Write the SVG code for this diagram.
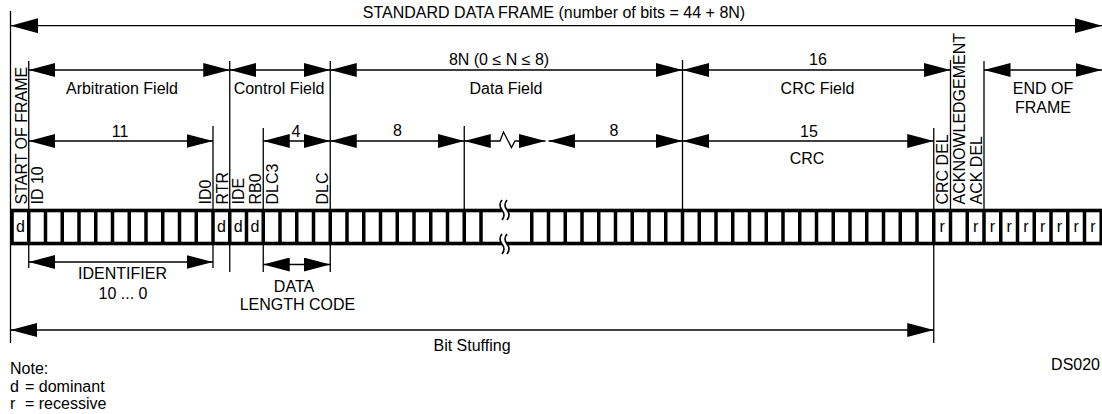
<svg xmlns="http://www.w3.org/2000/svg" width="1102" height="414" viewBox="0 0 1102 414">
<style>
text{font-family:"Liberation Sans",Arial,sans-serif;font-size:16px;fill:#000}
.c{text-anchor:middle}
.e{text-anchor:end}
.ln{stroke:#000;stroke-width:1.3;fill:none}
.ar{stroke:#000;stroke-width:1.3;fill:none;marker-start:url(#ah);marker-end:url(#ah)}
.big{stroke:#000;stroke-width:1.3;fill:none;marker-start:url(#ahb);marker-end:url(#ahb)}
.row{fill:#fff;stroke:#000;stroke-width:3.6}
.div{stroke:#000;stroke-width:3.5;fill:none}
.brk{fill:#fff;stroke:none}
.wav{fill:none;stroke:#000;stroke-width:1.6}
</style>
<defs>
<marker id="ah" markerUnits="userSpaceOnUse" markerWidth="27" markerHeight="14" refX="26.5" refY="7" orient="auto-start-reverse" viewBox="0 0 27 14"><path d="M0,0 L26.5,7 L0,14 Z" fill="#000"/></marker>
<marker id="ahb" markerUnits="userSpaceOnUse" markerWidth="28" markerHeight="15" refX="27.5" refY="7.5" orient="auto-start-reverse" viewBox="0 0 28 15"><path d="M0,0 L27.5,7.5 L0,15 Z" fill="#000"/></marker>
</defs>

<g id="connectors">
<path class="ln" d="M10.5,11 V343 M28.75,61 V268 M213,126 V268 M229.75,61 V272 M263.25,128 V272 M330.25,61 V272 M464.25,126 V209 M682.5,60 V209 M933.75,128 V343 M950.5,60 V209 M984,61 V209"/>
<line class="big" x1="10.5" y1="25.7" x2="1102" y2="25.7"/>
<line class="ar" x1="28.75" y1="70" x2="229.75" y2="70"/>
<line class="ar" x1="229.75" y1="70" x2="330.25" y2="70"/>
<line class="ar" x1="330.25" y1="70" x2="682.5" y2="70"/>
<line class="ar" x1="682.5" y1="70" x2="950.5" y2="70"/>
<line class="ar" x1="984" y1="70" x2="1102" y2="70"/>
<line class="ar" x1="28.75" y1="141" x2="213" y2="141"/>
<line class="ar" x1="263.25" y1="141" x2="330.25" y2="141"/>
<line class="ar" x1="330.25" y1="141" x2="464.25" y2="141"/>
<path class="ar" d="M464.25,141 L500,141 L503.5,132 L511.5,147.5 L515,141 L545.5,141"/>
<line class="ar" x1="548.5" y1="141" x2="682.5" y2="141"/>
<line class="ar" x1="682.5" y1="141" x2="933.75" y2="141"/>
<line class="ar" x1="28.75" y1="262" x2="213" y2="262"/>
<line class="ar" x1="263.25" y1="264.5" x2="330.25" y2="264.5"/>
<line class="ar" x1="10.5" y1="330" x2="933.75" y2="330"/>
</g>

<g id="title">
<text class="c" x="554" y="18.3">STANDARD DATA FRAME (number of bits = 44 + 8N)</text>
</g>

<g id="arbitration-field">
<text class="c" x="122" y="93.5">Arbitration Field</text>
<text class="c" x="120" y="137">11</text>
</g>
<g id="control-field">
<text class="c" x="279" y="93.5">Control Field</text>
<text class="c" x="296" y="137">4</text>
</g>
<g id="data-field">
<text class="c" x="499" y="65">8N (0 ≤ N ≤ 8)</text>
<text class="c" x="506" y="93.5">Data Field</text>
<text class="c" x="397.5" y="136">8</text>
<text class="c" x="614" y="136">8</text>
</g>
<g id="crc-field">
<text class="c" x="818" y="65">16</text>
<text class="c" x="817.5" y="93.5">CRC Field</text>
<text class="c" x="809" y="136.5">15</text>
<text class="c" x="807" y="164">CRC</text>
</g>
<g id="end-of-frame">
<text class="c" x="1043" y="93.5">END OF</text>
<text class="c" x="1043" y="112.5">FRAME</text>
</g>

<g id="bit-labels">
<text transform="translate(26.5,204.5) rotate(-90)">START OF FRAME</text>
<text transform="translate(43.25,204.5) rotate(-90)">ID 10</text>
<text transform="translate(210.75,204.5) rotate(-90)">ID0</text>
<text transform="translate(227.5,204.5) rotate(-90)">RTR</text>
<text transform="translate(244.25,204.5) rotate(-90)">IDE</text>
<text transform="translate(261,204.5) rotate(-90)">RB0</text>
<text transform="translate(277.75,204.5) rotate(-90)">DLC3</text>
<text transform="translate(328,204.5) rotate(-90)">DLC</text>
<text transform="translate(948.25,204.5) rotate(-90)">CRC DEL</text>
<text transform="translate(965,204.5) rotate(-90)">ACKNOWLEDGEMENT</text>
<text transform="translate(981.75,204.5) rotate(-90)">ACK DEL</text>
</g>

<g id="bit-row">
<rect class="row" x="12" y="210.5" width="1089.25" height="33"/>
<path class="div" d="M28.75,209V245 M45.5,209V245 M62.25,209V245 M79,209V245 M95.75,209V245 M112.5,209V245 M129.25,209V245 M146,209V245 M162.75,209V245 M179.5,209V245 M196.25,209V245 M213,209V245 M229.75,209V245 M246.5,209V245 M263.25,209V245 M280,209V245 M296.75,209V245 M313.5,209V245 M330.25,209V245 M347,209V245 M363.75,209V245 M380.5,209V245 M397.25,209V245 M414,209V245 M430.75,209V245 M447.5,209V245 M464.25,209V245 M481,209V245
M531.75,209V245 M548.5,209V245 M565.25,209V245 M582,209V245 M598.75,209V245 M615.5,209V245 M632.25,209V245 M649,209V245 M665.75,209V245 M682.5,209V245 M699.25,209V245 M716,209V245 M732.75,209V245 M749.5,209V245 M766.25,209V245 M783,209V245 M799.75,209V245 M816.5,209V245 M833.25,209V245 M850,209V245 M866.75,209V245 M883.5,209V245 M900.25,209V245 M917,209V245 M933.75,209V245 M950.5,209V245 M967.25,209V245 M984,209V245 M1000.75,209V245 M1017.5,209V245 M1034.25,209V245 M1051,209V245 M1067.75,209V245 M1084.5,209V245"/>
<path class="brk" d="M502,200 q-4,5 0,10 q4,5 0,10 L507,220 q4,-5 0,-10 q-4,-5 0,-10 Z"/>
<path class="wav" d="M502,200 q-4,5 0,10 q4,5 0,10 M507,200 q-4,5 0,10 q4,5 0,10"/>
<path class="brk" d="M502,234 q-4,5 0,10 q4,5 0,10 L507,254 q4,-5 0,-10 q-4,-5 0,-10 Z"/>
<path class="wav" d="M502,234 q-4,5 0,10 q4,5 0,10 M507,234 q-4,5 0,10 q4,5 0,10"/>
<text class="c" x="20.4" y="231.5">d</text>
<text class="c" x="221.4" y="231.5">d</text>
<text class="c" x="238.1" y="231.5">d</text>
<text class="c" x="254.9" y="231.5">d</text>
<text class="c" x="942.1" y="231.5">r</text>
<text class="c" x="975.6" y="231.5">r</text>
<text class="c" x="992.4" y="231.5">r</text>
<text class="c" x="1009.1" y="231.5">r</text>
<text class="c" x="1025.9" y="231.5">r</text>
<text class="c" x="1042.6" y="231.5">r</text>
<text class="c" x="1059.4" y="231.5">r</text>
<text class="c" x="1076.1" y="231.5">r</text>
<text class="c" x="1092.9" y="231.5">r</text>
</g>

<g id="identifier">
<text class="c" x="122.5" y="279">IDENTIFIER</text>
<text class="c" x="123" y="298.5">10 ... 0</text>
</g>
<g id="data-length-code">
<text class="c" x="294" y="291.7">DATA</text>
<text class="c" x="297.5" y="310">LENGTH CODE</text>
</g>
<g id="bit-stuffing">
<text class="c" x="472" y="351">Bit Stuffing</text>
</g>
<g id="notes">
<text x="10" y="374">Note:</text>
<text x="10" y="391.5">d <tspan x="25">= dominant</tspan></text>
<text x="10" y="408.5">r <tspan x="25">= recessive</tspan></text>
<text class="e" x="1100" y="370">DS020</text>
</g>
</svg>
